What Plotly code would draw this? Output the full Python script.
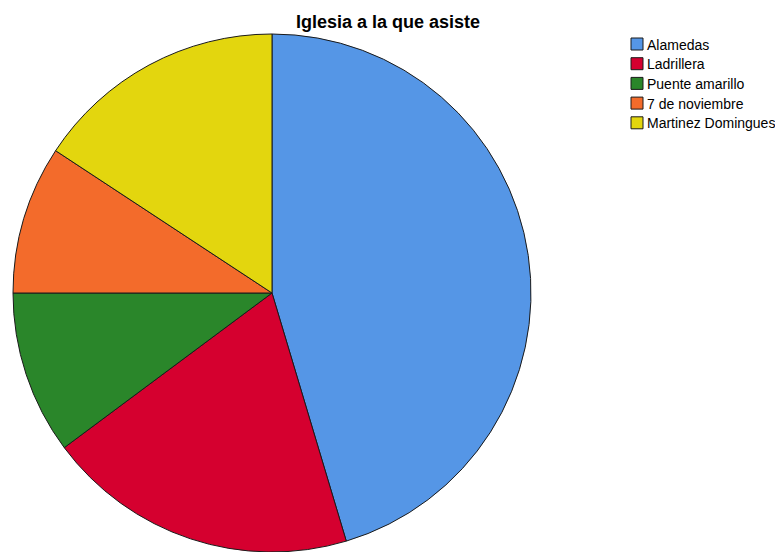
import plotly.graph_objects as go

iglesias = ["Alamedas", "Ladrillera", "Puente amarillo", "7 de noviembre", "Martinez Domingues"]
conteos = [49, 21, 11, 10, 17]
colores = ["#5596E6", "#D5002F", "#2A862A", "#F36B2B", "#E3D60E"]

# la página tiene 8 px de margen en el body, así que la figura es 8 px más chica
OFF = 8
W, H = 783 - OFF, 552 - OFF


def px(x):
    return (x - OFF) / W


def py(y):
    return 1 - (y - OFF) / H


fig = go.Figure()
fig.add_trace(go.Pie(
    labels=iglesias,
    values=conteos,
    sort=False,
    direction="clockwise",
    rotation=0,
    textinfo="none",
    hoverinfo="label+value+percent",
    marker=dict(colors=colores, line=dict(color="#1a1a1a", width=1)),
    domain=dict(x=[px(12), px(532)], y=[0, py(34)]),
    showlegend=False,
))

# leyenda dibujada a mano (cajas pegadas al texto, como en el original)
shapes = []
annotations = []
for i, (nombre, color) in enumerate(zip(iglesias, colores)):
    top = 38 + i * 19.7
    shapes.append(dict(type="rect", xref="paper", yref="paper",
                       x0=px(631), x1=px(643), y0=py(top + 12), y1=py(top),
                       fillcolor=color, line=dict(color="#1a1a1a", width=1)))
    annotations.append(dict(text=nombre, xref="paper", yref="paper",
                            x=px(645), y=py(top + 6.5), xanchor="left", yanchor="middle",
                            showarrow=False, font=dict(size=14, color="#000000")))

annotations.append(dict(text="<b>Iglesia a la que asiste</b>", xref="paper", yref="paper",
                        x=px(388), y=py(22), xanchor="center", yanchor="middle",
                        showarrow=False, font=dict(size=18, color="#000000")))

fig.update_layout(
    width=W, height=H,
    margin=dict(l=0, r=0, t=0, b=0),
    paper_bgcolor="white",
    plot_bgcolor="white",
    font=dict(family="Liberation Sans, Arial, sans-serif"),
    shapes=shapes,
    annotations=annotations,
)

fig.write_html("out.html")
